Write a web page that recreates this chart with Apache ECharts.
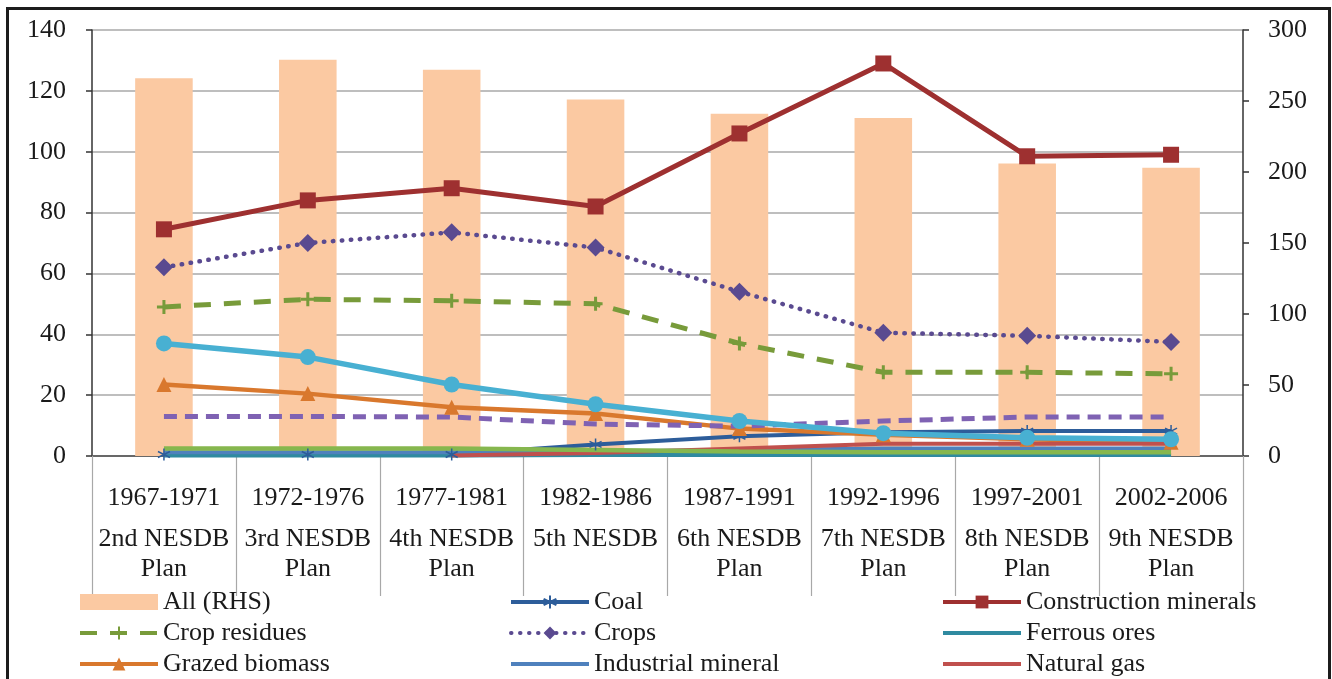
<!DOCTYPE html>
<html>
<head>
<meta charset="utf-8">
<script src="https://cdn.jsdelivr.net/npm/echarts@6/dist/echarts.min.js"></script>
<style>
  html, body { margin: 0; padding: 0; background: #fff; }
  #chart { position: absolute; left: 0; top: 0; width: 1332px; height: 679px; }
  #frame { position: absolute; left: 6px; top: 7px; width: 1319px; height: 700px;
           border: 3px solid #1c1c1c; pointer-events: none; }
</style>
</head>
<body>
<div id="chart"></div>
<div id="frame"></div>
<script>
// Plan periods and the NESDB plan each one belongs to
const periods = ['1967-1971', '1972-1976', '1977-1981', '1982-1986',
                 '1987-1991', '1992-1996', '1997-2001', '2002-2006'];
const planLines = ['2nd NESDB\nPlan', '3rd NESDB\nPlan', '4th NESDB\nPlan', '5th NESDB',
                   '6th NESDB\nPlan', '7th NESDB\nPlan', '8th NESDB\nPlan', '9th NESDB\nPlan'];

// Axis ticks
const leftTicks = { min: 0, max: 140, step: 20 };
const rightTicks = { min: 0, max: 300, step: 50 };

// Material extraction, million tonnes
const allRHS = [266, 279, 272, 251, 241, 238, 206, 203];
const constructionMinerals = [74.5, 84, 88, 82, 106, 129, 98.5, 99];
const crops = [62, 70, 73.5, 68.5, 54, 40.5, 39.5, 37.5];
const cropResidues = [49, 51.5, 51, 50, 37, 27.5, 27.5, 27];
const wood = [37, 32.5, 23.5, 17, 11.5, 7.5, 6, 5.5];
const grazedBiomass = [23.5, 20.5, 16, 14, 9, 7, 5.5, 4.5];
const otherBiomass = [13, 13, 12.8, 10.5, 9.8, 11.5, 12.8, 12.8];
const coal = [0.5, 0.5, 0.5, 3.8, 6.5, 7.8, 8.2, 8.2];
const industrialMineral = [1.2, 1.2, 1.2, 1.5, 2, 2.5, 2.5, 2.5];
const ferrousOres = [0.2, 0.2, 0.2, 0.3, 0.3, 0.3, 0.3, 0.3];
const naturalGas = [null, null, 0.2, 1, 2.5, 4, 4, 4];
const nonFerrousOres = [2.5, 2.5, 2.5, 2, 1.5, 1.2, 1.2, 1.2];

const FONT = 'Liberation Serif';
const TEXT = '#1a1a1a';
// thin bar used as the legend key of plain lines
const PLAIN_LINE_ICON = 'path://M0,0H100V5H0Z';

function lineSeries(name, data, color, width, opts) {
  opts = opts || {};
  return Object.assign({
    name: name,
    type: 'line',
    data: data,
    yAxisIndex: 0,
    symbol: 'none',
    symbolSize: 12,
    connectNulls: false,
    lineStyle: { color: color, width: width, type: opts.dash || 'solid', cap: opts.cap || 'butt' },
    itemStyle: { color: color },
    emphasis: { disabled: true },
    animation: false
  }, opts.extra || {});
}

const chart = echarts.init(document.getElementById('chart'), null, { renderer: 'canvas' });

const legendText = { fontFamily: FONT, fontSize: 26, color: TEXT, lineHeight: 26 };
function legendCol(left, names) {
  return {
    orient: 'vertical', left: left, top: 589, padding: 0,
    itemWidth: 78, itemHeight: 16, itemGap: 5,
    lineStyle: { width: 4 },
    textStyle: legendText, data: names, selectedMode: false
  };
}

chart.setOption({
  animation: false,
  backgroundColor: '#fff',
  grid: { left: 92, right: 89, top: 30, bottom: 223, containLabel: false },
  legend: [
    legendCol(78, [{ name: 'All (RHS)', icon: 'rect' }, 'Crop residues', 'Grazed biomass']),
    legendCol(509, ['Coal', 'Crops', { name: 'Industrial mineral', icon: PLAIN_LINE_ICON }]),
    legendCol(941, ['Construction minerals', { name: 'Ferrous ores', icon: PLAIN_LINE_ICON },
                    { name: 'Natural gas', icon: PLAIN_LINE_ICON }])
  ],
  xAxis: [{
    type: 'category',
    data: periods,
    boundaryGap: true,
    axisLine: { lineStyle: { color: '#9a9a9a', width: 1.5 } },
    axisTick: { show: true, interval: 0, length: 140, lineStyle: { color: '#a8a8a8', width: 1.2 } },
    axisLabel: {
      interval: 0, margin: 16,
      formatter: function (v, i) {
        const plan = planLines[i].split('\n').map(function (s) { return '{b|' + s + '}'; }).join('\n');
        return '{a|' + v + '}\n' + plan;
      },
      rich: {
        a: { fontFamily: FONT, fontSize: 26, color: TEXT, lineHeight: 52 },
        b: { fontFamily: FONT, fontSize: 26, color: TEXT, lineHeight: 30 }
      }
    },
    splitLine: { show: false }
  }, {
    type: 'category',
    data: periods,
    position: 'top',
    axisLine: { lineStyle: { color: '#555', width: 1.5 } },
    axisTick: { show: false },
    axisLabel: { show: false },
    splitLine: { show: false }
  }],
  yAxis: [{
    type: 'value',
    min: leftTicks.min, max: leftTicks.max, interval: leftTicks.step,
    axisLine: { show: true, lineStyle: { color: '#333', width: 1.5 } },
    axisTick: { show: true, length: 6, lineStyle: { color: '#333', width: 1.5 } },
    axisLabel: { fontFamily: FONT, fontSize: 26, color: TEXT, margin: 26 },
    splitLine: { show: true, lineStyle: { color: '#a9a9a9', width: 1.5 } }
  }, {
    type: 'value',
    position: 'right',
    min: rightTicks.min, max: rightTicks.max, interval: rightTicks.step,
    axisLine: { show: true, lineStyle: { color: '#333', width: 1.5 } },
    axisTick: { show: true, length: 6, lineStyle: { color: '#333', width: 1.5 } },
    axisLabel: { fontFamily: FONT, fontSize: 26, color: TEXT, margin: 25 },
    splitLine: { show: false }
  }],
  series: [
    {
      name: 'All (RHS)', type: 'bar', data: allRHS, yAxisIndex: 1,
      barWidth: '40%', itemStyle: { color: '#fbc9a2' }, emphasis: { disabled: true }, z: 1
    },
    lineSeries('Coal', coal, '#2d5d9a', 4, { extra: { symbol: 'path://M0,-1L0,1M-0.87,-0.5L0.87,0.5M-0.87,0.5L0.87,-0.5', symbolSize: 12, itemStyle: { color: '#2d5d9a', borderColor: '#2d5d9a', borderWidth: 1.5 } } }),
    lineSeries('Construction minerals', constructionMinerals, '#9e3030', 5, { extra: { symbol: 'rect', symbolSize: 16 } }),
    lineSeries('Crop residues', cropResidues, '#789b3a', 5, { dash: [17, 13], extra: { symbol: 'path://M-1,0L1,0M0,-1L0,1', symbolSize: 14, itemStyle: { color: '#789b3a', borderColor: '#789b3a', borderWidth: 3 } } }),
    lineSeries('Crops', crops, '#5a4a90', 4.5, { dash: [0.5, 8.5], cap: 'round', extra: { symbol: 'diamond', symbolSize: 18 } }),
    lineSeries('Ferrous ores', ferrousOres, '#2f8aa0', 4),
    lineSeries('Grazed biomass', grazedBiomass, '#d9782d', 4.5, { extra: { symbol: 'triangle', symbolSize: 15 } }),
    lineSeries('Industrial mineral', industrialMineral, '#4f81bd', 4),
    lineSeries('Natural gas', naturalGas, '#c0504d', 4),
    lineSeries('Non-ferrous ores', nonFerrousOres, '#86b74e', 4.5),
    lineSeries('Other biomass', otherBiomass, '#7f62b3', 5, { dash: [13, 8] }),
    lineSeries('Wood', wood, '#48b0d2', 5.5, { extra: { symbol: 'circle', symbolSize: 16 } })
  ]
});
</script>
</body>
</html>
